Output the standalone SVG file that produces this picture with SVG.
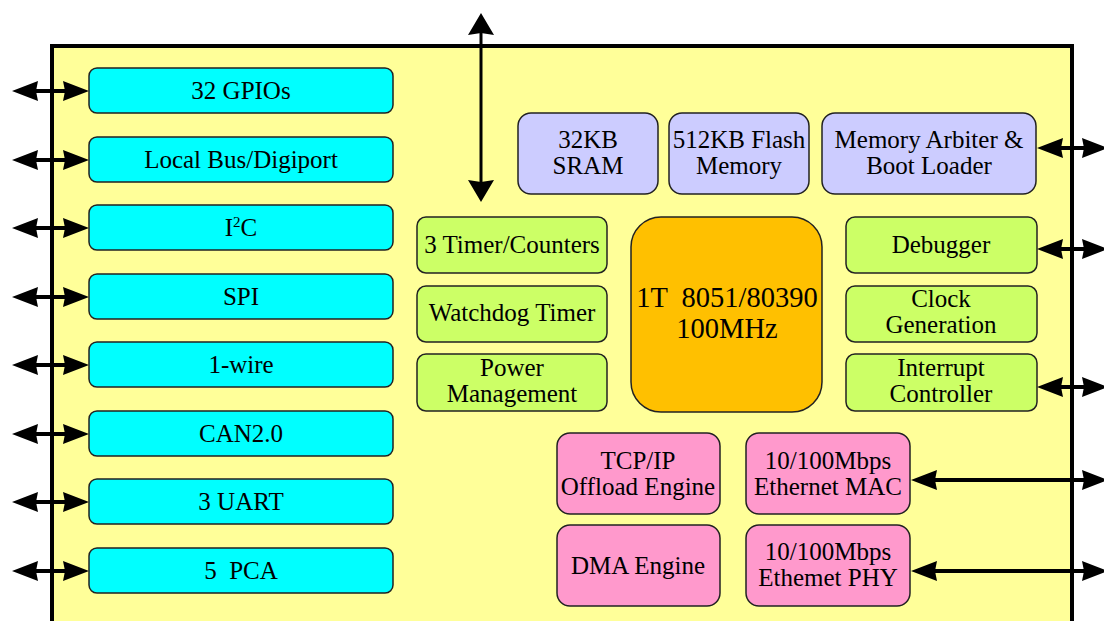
<svg xmlns="http://www.w3.org/2000/svg" width="1104" height="621" viewBox="0 0 1104 621">
<style>
text{font-family:'Liberation Serif','Times New Roman','DejaVu Serif',serif;font-size:25px;fill:#000;text-anchor:middle}
.cpu{font-size:28.5px}
.box{stroke:#222;stroke-width:1.5}
.cy{fill:#00FFFF}
.pu{fill:#CCCCFF}
.gr{fill:#CCFF66}
.pk{fill:#FF99CC}
.or{fill:#FFC000}
.ar{stroke:#000;stroke-width:4;fill:none;marker-start:url(#ah);marker-end:url(#ah)}
</style>
<defs>
<marker id="ah" markerUnits="userSpaceOnUse" viewBox="0 0 26 20" markerWidth="26" markerHeight="20" refX="15" refY="10" orient="auto-start-reverse">
<path d="M0,0 L26,10 L0,20 L2,10 z" fill="#000"/>
</marker>
<marker id="ahv" markerUnits="userSpaceOnUse" viewBox="0 0 22 26" markerWidth="22" markerHeight="26" refX="12" refY="13" orient="auto-start-reverse">
<path d="M0,0 L22,13 L0,26 L2,13 z" fill="#000"/>
</marker>
</defs>
<rect id="chip" x="52" y="46" width="1020" height="600" fill="#FFFF99" stroke="#000" stroke-width="4"/>
<g id="connectors">
<path class="ar" d="M23,91 H78"/>
<path class="ar" d="M23,160 H78"/>
<path class="ar" d="M23,228 H78"/>
<path class="ar" d="M23,297 H78"/>
<path class="ar" d="M23,365 H78"/>
<path class="ar" d="M23,434 H78"/>
<path class="ar" d="M23,502 H78"/>
<path class="ar" d="M23,571 H78"/>
<path d="M481,23 V192" stroke="#000" stroke-width="3" fill="none" marker-start="url(#ahv)" marker-end="url(#ahv)"/>
<path class="ar" d="M1048,148 H1097"/>
<path class="ar" d="M1048,249 H1097"/>
<path class="ar" d="M1048,387 H1097"/>
<path class="ar" d="M922,480 H1097"/>
<path class="ar" d="M922,571 H1097"/>
</g>
<g id="gpio"><rect class="box cy" x="89" y="68" width="304" height="45" rx="8"/><text x="241" y="99">32 GPIOs</text></g>
<g id="localbus"><rect class="box cy" x="89" y="137" width="304" height="45" rx="8"/><text x="241" y="168">Local Bus/Digiport</text></g>
<g id="i2c"><rect class="box cy" x="89" y="205" width="304" height="45" rx="8"/><text x="241" y="236">I<tspan font-size="15" dy="-9">2</tspan><tspan dy="9">C</tspan></text></g>
<g id="spi"><rect class="box cy" x="89" y="274" width="304" height="45" rx="8"/><text x="241" y="305">SPI</text></g>
<g id="onewire"><rect class="box cy" x="89" y="342" width="304" height="45" rx="8"/><text x="241" y="373">1-wire</text></g>
<g id="can"><rect class="box cy" x="89" y="411" width="304" height="45" rx="8"/><text x="241" y="442">CAN2.0</text></g>
<g id="uart"><rect class="box cy" x="89" y="479" width="304" height="45" rx="8"/><text x="241" y="510">3 UART</text></g>
<g id="pca"><rect class="box cy" x="89" y="548" width="304" height="45" rx="8"/><text x="241" y="579" xml:space="preserve">5  PCA</text></g>
<g id="sram"><rect class="box pu" x="518" y="113" width="140" height="81" rx="13"/><text x="588" y="148">32KB</text><text x="588" y="174">SRAM</text></g>
<g id="flash"><rect class="box pu" x="669" y="113" width="140" height="81" rx="13"/><text x="739" y="148">512KB Flash</text><text x="739" y="174">Memory</text></g>
<g id="arbiter"><rect class="box pu" x="822" y="113" width="214" height="81" rx="13"/><text x="929" y="148">Memory Arbiter &amp;</text><text x="929" y="174">Boot Loader</text></g>
<g id="timers"><rect class="box gr" x="417" y="217" width="190" height="56" rx="9"/><text x="512" y="253">3 Timer/Counters</text></g>
<g id="watchdog"><rect class="box gr" x="417" y="286" width="190" height="56" rx="9"/><text x="512" y="321">Watchdog Timer</text></g>
<g id="power"><rect class="box gr" x="417" y="354" width="190" height="57" rx="9"/><text x="512" y="376">Power</text><text x="512" y="402">Management</text></g>
<g id="cpu"><rect class="box or" x="631" y="217" width="191" height="195" rx="30"/><text class="cpu" x="727" y="307" xml:space="preserve">1T  8051/80390</text><text class="cpu" x="727" y="338">100MHz</text></g>
<g id="debugger"><rect class="box gr" x="846" y="217" width="191" height="56" rx="9"/><text x="941" y="253">Debugger</text></g>
<g id="clock"><rect class="box gr" x="846" y="286" width="191" height="56" rx="9"/><text x="941" y="307">Clock</text><text x="941" y="333">Generation</text></g>
<g id="interrupt"><rect class="box gr" x="846" y="354" width="191" height="57" rx="9"/><text x="941" y="376">Interrupt</text><text x="941" y="402">Controller</text></g>
<g id="tcpip"><rect class="box pk" x="557" y="433" width="163" height="81" rx="13"/><text x="638" y="469">TCP/IP</text><text x="638" y="495">Offload Engine</text></g>
<g id="mac"><rect class="box pk" x="746" y="433" width="164" height="81" rx="13"/><text x="828" y="469">10/100Mbps</text><text x="828" y="495">Ethernet MAC</text></g>
<g id="dma"><rect class="box pk" x="557" y="525" width="163" height="81" rx="13"/><text x="638" y="574">DMA Engine</text></g>
<g id="phy"><rect class="box pk" x="746" y="525" width="164" height="81" rx="13"/><text x="828" y="560">10/100Mbps</text><text x="828" y="586">Ethemet PHY</text></g>
</svg>
